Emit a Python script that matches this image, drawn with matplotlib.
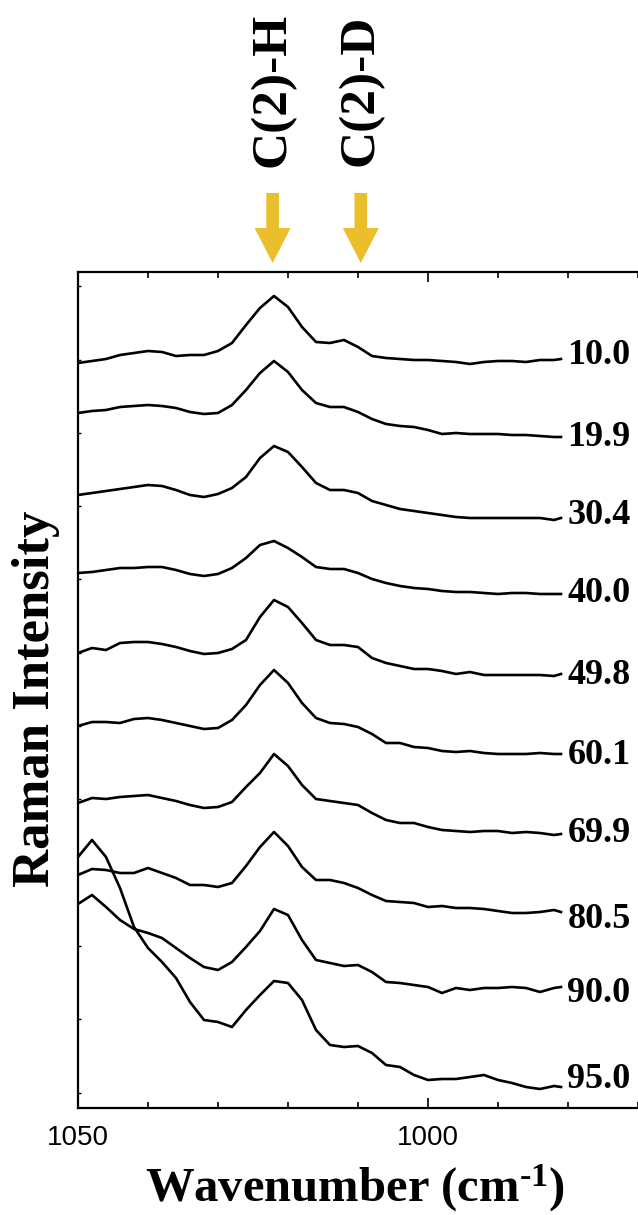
import matplotlib
matplotlib.use('Agg')
import numpy as np
import matplotlib.pyplot as plt
import matplotlib.transforms as mtransforms
from matplotlib.patches import Polygon
from matplotlib.ticker import MultipleLocator

plt.rcParams['font.family'] = ['Liberation Serif', 'DejaVu Serif']
plt.rcParams['mathtext.fontset'] = 'custom'
plt.rcParams['mathtext.rm'] = 'Liberation Serif:bold'
plt.rcParams['mathtext.default'] = 'regular'

# Raman shift grid (cm-1)
wavenumber = [1050, 1048, 1046, 1044, 1042, 1040, 1038, 1036, 1034, 1032,
              1030, 1028, 1026, 1024, 1022, 1020, 1018, 1016, 1014, 1012,
              1010, 1008, 1006, 1004, 1002, 1000, 998, 996, 994, 992,
              990, 988, 986, 984, 982, 981]

# stacked spectra (arb. units, offsets included)
s10_0 = [745, 747, 749, 753, 755, 757, 756, 752, 753, 753, 757, 765, 783, 800, 812, 801, 781, 766,
         765, 768, 761, 752, 750, 749, 748, 748, 747, 746, 744, 746, 747, 747, 746, 748, 748, 749]
s19_9 = [695, 697, 698, 701, 702, 703, 702, 700, 696, 694, 695, 703, 718, 735, 747, 736, 718, 705,
         701, 701, 696, 689, 684, 682, 681, 678, 674, 675, 674, 674, 674, 673, 673, 672, 671, 671]
s30_4 = [613, 615, 617, 619, 621, 623, 622, 618, 613, 611, 614, 620, 631, 650, 662, 656, 641, 625,
         618, 618, 615, 607, 603, 599, 597, 595, 593, 591, 590, 590, 590, 590, 590, 590, 588, 590]
s40_0 = [535, 536, 538, 540, 540, 541, 541, 538, 534, 532, 534, 540, 550, 563, 567, 560, 551, 541,
         539, 539, 535, 529, 525, 522, 520, 519, 517, 516, 516, 515, 514, 515, 515, 514, 514, 514]
s49_8 = [455, 460, 458, 465, 466, 466, 464, 461, 457, 454, 455, 459, 468, 491, 508, 501, 485, 468,
         463, 463, 461, 450, 445, 442, 439, 439, 437, 434, 436, 433, 433, 433, 433, 433, 432, 434]
s60_1 = [382, 386, 386, 385, 389, 390, 388, 385, 382, 379, 380, 388, 403, 423, 438, 425, 405, 390,
         385, 384, 381, 374, 365, 365, 361, 360, 357, 356, 357, 355, 354, 354, 354, 355, 354, 354]
s69_9 = [305, 310, 309, 311, 312, 313, 310, 307, 303, 300, 301, 306, 321, 335, 354, 342, 323, 309,
         307, 305, 303, 295, 288, 285, 285, 281, 278, 277, 276, 277, 277, 275, 276, 275, 273, 274]
s80_5 = [233, 239, 238, 235, 235, 240, 235, 230, 223, 223, 221, 225, 242, 261, 276, 262, 241, 228,
         228, 225, 220, 213, 207, 206, 205, 201, 202, 200, 200, 199, 197, 195, 195, 196, 198, 196]
s90_0 = [204, 213, 201, 188, 179, 175, 170, 160, 150, 141, 138, 146, 161, 177, 199, 193, 168, 148,
         145, 142, 143, 136, 126, 125, 123, 121, 115, 120, 118, 120, 120, 121, 120, 116, 120, 121]
s95_0 = [251, 268, 251, 220, 181, 160, 146, 130, 106, 88, 86, 81, 98, 113, 127, 125, 108, 78,
         63, 61, 62, 55, 43, 41, 33, 28, 29, 29, 31, 33, 28, 25, 21, 19, 22, 21]

spectra = [s10_0, s19_9, s30_4, s40_0, s49_8, s60_1, s69_9, s80_5, s90_0, s95_0]
labels = ['10.0', '19.9', '30.4', '40.0', '49.8', '60.1', '69.9', '80.5', '90.0', '95.0']
label_y = [752, 670, 592, 514, 433, 353, 275, 188, 115, 28]

band_names = ['C(2)-H', 'C(2)-D']
band_pos = [1022.2, 1009.6]

fig = plt.figure(figsize=(6.38, 12.15), dpi=100)
ax = fig.add_axes([78 / 638, 107 / 1215, 567 / 638, 836 / 1215])

for sp in spectra:
    ax.plot(wavenumber, sp, color='black', lw=1.9)

for lab, y in zip(labels, label_y):
    ax.text(980.1, y, lab, ha='left', va='center', fontsize=26,
            fontweight='bold', clip_on=False)

ax.set_xlim(1050, 969)
ax.set_ylim(0, 836)
ax.xaxis.set_major_locator(MultipleLocator(50))
ax.xaxis.set_minor_locator(MultipleLocator(10))
ax.set_yticks(np.arange(15.5, 836, 73.3))
ax.set_yticklabels([])

ax.tick_params(axis='x', which='major', direction='in', length=7.5, width=1.2,
               top=True, pad=12, labelsize=20, labelfontfamily='Liberation Sans')
ax.tick_params(axis='x', which='minor', direction='in', length=4.5, width=1.2, top=True)
ax.tick_params(axis='y', direction='in', length=2.5, width=1.0, right=True)
for s in ax.spines.values():
    s.set_linewidth(1.6)

ax.set_xlabel(r'Wavenumber (cm$^{\text{-1}}$)', fontsize=35, fontweight='bold', va='center')
ax.xaxis.set_label_coords(0.4885, -0.096)
ax.set_ylabel('Raman Intensity', fontsize=38, fontweight='bold', va='center')
ax.yaxis.set_label_coords(-0.074, 0.489)

# band markers above the frame
trans = mtransforms.blended_transform_factory(ax.transData, fig.transFigure)
gold = '#EABF2B'
for name, p in zip(band_names, band_pos):
    verts = [(p - 0.9, 0.8412), (p + 0.9, 0.8412), (p + 0.9, 0.8123), (p + 2.57, 0.8123),
             (p, 0.7835), (p - 2.57, 0.8123), (p - 0.9, 0.8123)]
    fig.add_artist(Polygon(verts, closed=True, transform=trans, facecolor=gold,
                           edgecolor='none'))
    ax.text(p, 0.926, name, transform=trans, rotation=90, ha='center', va='center',
            fontsize=37, fontweight='bold', clip_on=False)

fig.savefig('out.png', dpi=100)
